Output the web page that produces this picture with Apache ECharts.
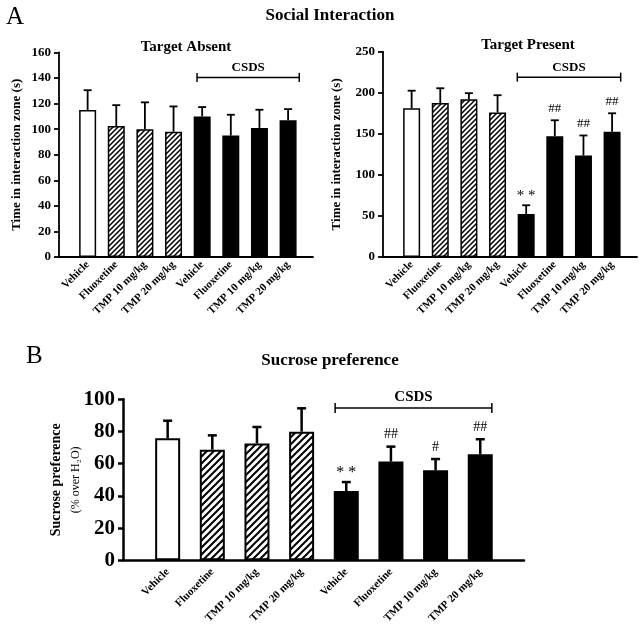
<!DOCTYPE html>
<html>
<head>
<meta charset="utf-8">
<script src="https://cdn.jsdelivr.net/npm/echarts@6/dist/echarts.min.js"></script>
<style>html,body{margin:0;padding:0;background:#fff}#c{width:640px;height:633px}</style>
</head>
<body>
<div id="c"></div>
<script>
// ---- data ----
const categories = ['Vehicle', 'Fluoxetine', 'TMP 10 mg/kg', 'TMP 20 mg/kg', 'Vehicle', 'Fluoxetine', 'TMP 10 mg/kg', 'TMP 20 mg/kg'];
const absentMean = [115, 102.5, 100, 98, 110, 95, 101, 107];
const absentSEM = [15.5, 16.3, 21, 19.8, 7.3, 16.3, 14.2, 8.7];
const presentMean = [181, 187.5, 192, 176, 52.5, 147, 123.5, 152.5];
const presentSEM = [21.5, 18, 7.5, 21, 10.5, 19.5, 24.5, 22.5];
const sucroseMean = [75.8, 68.7, 72.5, 79.9, 43, 61.3, 55.9, 65.8];
const sucroseSEM = [10.9, 8.9, 10.3, 14.5, 5.6, 9.3, 7, 9.4];
const absentSig = ['', '', '', '', '', '', '', ''];
const presentSig = ['', '', '', '', '**', '##', '##', '##'];
const sucroseSig = ['', '', '', '', '**', '##', '#', '##'];
const yTicksAbsent = [0, 160, 20];
const yTicksPresent = [0, 250, 50];
const yTicksSucrose = [0, 100, 20];

// ---- styling helpers ----
const FONT = "'Liberation Serif', 'Times New Roman', serif";
function hatch(size, lw) {
  const c = document.createElement('canvas');
  c.width = size; c.height = size;
  const g = c.getContext('2d');
  g.fillStyle = '#fff'; g.fillRect(0, 0, size, size);
  g.strokeStyle = '#000'; g.lineWidth = lw; g.lineCap = 'square';
  g.beginPath();
  g.moveTo(-1, size + 1); g.lineTo(size + 1, -1);
  g.moveTo(-1, 1); g.lineTo(1, -1);
  g.moveTo(size - 1, size + 1); g.lineTo(size + 1, size - 1);
  g.stroke();
  return c;
}
const hatchSmall = hatch(5, 1.5);
const hatchBig = hatch(7, 2);

function fillFor(i, pat) {
  if (i === 0) return '#fff';
  if (i <= 3) return { image: pat, repeat: 'repeat' };
  return '#000';
}

function barData(means, pat, bw) {
  return means.map((m, i) => ({ value: [i + 1, m], itemStyle: { color: fillFor(i, pat), borderColor: '#000', borderWidth: bw } }));
}

function errSeries(idx, means, sems, sigs, capHalf, lw, sigSize, starSize, starGap) {
  return {
    type: 'custom', xAxisIndex: idx, yAxisIndex: idx, z: 5, silent: true,
    data: means.map((m, i) => [i + 1, m, m + sems[i]]),
    renderItem: function (params, api) {
      const x = api.value(0), m = api.value(1), t = api.value(2);
      const p0 = api.coord([x, m]), p1 = api.coord([x, t]);
      const ch = [
        { type: 'line', shape: { x1: p0[0], y1: p0[1], x2: p1[0], y2: p1[1] }, style: { stroke: '#000', lineWidth: lw } },
        { type: 'line', shape: { x1: p1[0] - capHalf, y1: p1[1], x2: p1[0] + capHalf, y2: p1[1] }, style: { stroke: '#000', lineWidth: lw } }
      ];
      const s = sigs[params.dataIndex];
      if (s) {
        const star = s.indexOf('*') >= 0;
        ch.push({
          type: 'text',
          style: {
            text: star ? s.split('').join(' ') : s,
            x: p1[0], y: star ? p1[1] - starGap : p1[1] - 5,
            align: 'center', verticalAlign: star ? 'middle' : 'bottom',
            fontFamily: FONT, fontSize: star ? starSize : sigSize, fill: '#000'
          }
        });
      }
      return { type: 'group', children: ch };
    }
  };
}

function bracketSeries(idx, x1, x2, y, capH, lw, fs, gap) {
  return {
    type: 'custom', xAxisIndex: idx, yAxisIndex: idx, silent: true,
    data: [[x1, x2, y]],
    renderItem: function (params, api) {
      const a = api.coord([api.value(0), api.value(2)]);
      const b = api.coord([api.value(1), api.value(2)]);
      return {
        type: 'group', children: [
          { type: 'line', shape: { x1: a[0], y1: a[1], x2: b[0], y2: b[1] }, style: { stroke: '#000', lineWidth: lw } },
          { type: 'line', shape: { x1: a[0], y1: a[1] - capH, x2: a[0], y2: a[1] + capH }, style: { stroke: '#000', lineWidth: lw } },
          { type: 'line', shape: { x1: b[0], y1: b[1] - capH, x2: b[0], y2: b[1] + capH }, style: { stroke: '#000', lineWidth: lw } },
          { type: 'text', style: { text: 'CSDS', x: (a[0] + b[0]) / 2, y: a[1] - gap, align: 'center', verticalAlign: 'bottom', fontFamily: FONT, fontWeight: 'bold', fontSize: fs, fill: '#000' } }
        ]
      };
    }
  };
}

function xAxisDef(idx, max, fs, margin, lw) {
  return {
    type: 'value', gridIndex: idx, min: 0, max: max, interval: 1,
    axisLine: { show: true, onZero: false, lineStyle: { color: '#000', width: lw } },
    axisTick: { show: false }, splitLine: { show: false },
    axisLabel: {
      rotate: 45, margin: margin, fontFamily: FONT, fontWeight: 'bold', fontSize: fs, color: '#000',
      showMinLabel: true, showMaxLabel: true,
      formatter: function (v) { return (Number.isInteger(v) && v >= 1 && v <= 8) ? categories[v - 1] : ''; }
    }
  };
}

function yAxisDef(idx, ticks, fs, lw, margin, name, nameGap, nameStyle) {
  return {
    type: 'value', gridIndex: idx, min: ticks[0], max: ticks[1], interval: ticks[2],
    axisLine: { show: true, lineStyle: { color: '#000', width: lw } },
    axisTick: { show: true, inside: false, length: 5, lineStyle: { color: '#000', width: lw } },
    splitLine: { show: false },
    axisLabel: { fontFamily: FONT, fontWeight: 'bold', fontSize: fs, color: '#000', margin: margin },
    name: name, nameLocation: 'middle', nameGap: nameGap, nameRotate: 90, nameMoveOverlap: false,
    nameTextStyle: nameStyle
  };
}

const chart = echarts.init(document.getElementById('c'), null, { renderer: 'canvas' });
const option = {
  backgroundColor: '#fff',
  animation: false,
  title: [
    { text: 'A', left: 1, top: 0, textStyle: { fontFamily: FONT, fontWeight: 'normal', fontSize: 25, color: '#000' } },
    { text: 'Social Interaction', left: 325, top: 2, textAlign: 'center', textStyle: { fontFamily: FONT, fontWeight: 'bold', fontSize: 17, color: '#000' } },
    { text: 'Target Absent', left: 181, top: 35, textAlign: 'center', textStyle: { fontFamily: FONT, fontWeight: 'bold', fontSize: 15, color: '#000' } },
    { text: 'Target Present', left: 523, top: 33, textAlign: 'center', textStyle: { fontFamily: FONT, fontWeight: 'bold', fontSize: 15, color: '#000' } },
    { text: 'B', left: 21, top: 339, textStyle: { fontFamily: FONT, fontWeight: 'normal', fontSize: 25, color: '#000' } },
    { text: 'Sucrose preference', left: 325, top: 347, textAlign: 'center', textStyle: { fontFamily: FONT, fontWeight: 'bold', fontSize: 17, color: '#000' } }
  ],
  grid: [
    { left: 59, top: 52.5, width: 254, height: 204.5, outerBoundsMode: 'none' },
    { left: 383, top: 51.7, width: 254, height: 205.3, outerBoundsMode: 'none' },
    { left: 123, top: 399.3, width: 401, height: 161, outerBoundsMode: 'none' }
  ],
  xAxis: [
    xAxisDef(0, 8.87, 11, 6, 1.8),
    xAxisDef(1, 8.87, 11, 6, 1.8),
    xAxisDef(2, 8.98, 11, 10, 2.5)
  ],
  yAxis: [
    yAxisDef(0, yTicksAbsent, 13, 1.8, 8, 'Time in interaction zone (s)', 36, { fontFamily: FONT, fontWeight: 'bold', fontSize: 13, color: '#000' }),
    yAxisDef(1, yTicksPresent, 13, 1.8, 8, 'Time in interaction zone (s)', 40, { fontFamily: FONT, fontWeight: 'bold', fontSize: 13, color: '#000' }),
    yAxisDef(2, yTicksSucrose, 21, 2.5, 8, '{a|Sucrose preference}\n{b|(% over H₂O)}', 38, {
      fontFamily: FONT, color: '#000',
      rich: {
        a: { fontFamily: FONT, fontWeight: 'bold', fontSize: 14, color: '#000', lineHeight: 19, align: 'center' },
        b: { fontFamily: FONT, fontWeight: 'normal', fontSize: 12, color: '#000', lineHeight: 19, align: 'center' }
      }
    })
  ],
  series: [
    { type: 'bar', xAxisIndex: 0, yAxisIndex: 0, barWidth: 17, data: barData(absentMean, hatchSmall, 1.5) },
    errSeries(0, absentMean, absentSEM, absentSig, 4, 1.8, 13, 15, 9),
    bracketSeries(0, 4.82, 8.39, 140.5, 4.5, 1.5, 13, 3),
    { type: 'bar', xAxisIndex: 1, yAxisIndex: 1, barWidth: 17, data: barData(presentMean, hatchSmall, 1.5) },
    errSeries(1, presentMean, presentSEM, presentSig, 4, 1.8, 13, 15, 9),
    bracketSeries(1, 4.69, 8.3, 219, 4.5, 1.5, 13, 3),
    { type: 'bar', xAxisIndex: 2, yAxisIndex: 2, barWidth: 25, data: barData(sucroseMean, hatchBig, 2) },
    errSeries(2, sucroseMean, sucroseSEM, sucroseSig, 4.5, 2.5, 14, 16, 9),
    bracketSeries(2, 4.75, 8.26, 94.6, 5, 1.5, 15, 3)
  ]
};
chart.setOption(option);
</script>
</body>
</html>
